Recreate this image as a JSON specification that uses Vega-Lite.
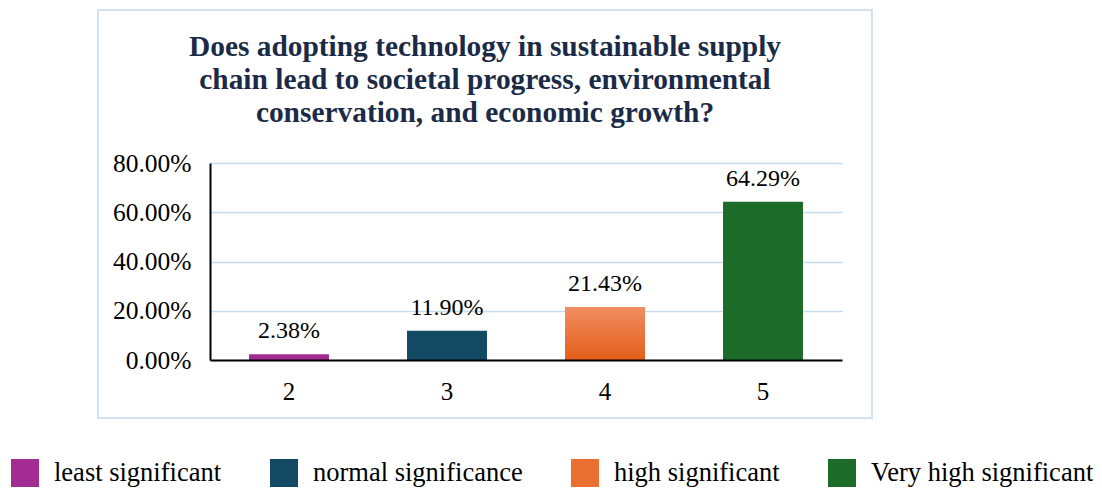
{
  "$schema": "https://vega.github.io/schema/vega-lite/v6.json",
  "width": 774,
  "height": 408,
  "autosize": {"type": "none"},
  "padding": {"left": 98, "top": 10, "right": 230, "bottom": 70},
  "background": "white",
  "config": {
    "font": "Liberation Serif",
    "view": {"stroke": "#D3E2F3", "strokeWidth": 2}
  },
  "title": {
    "text": ["Does adopting technology in sustainable supply", "chain lead to societal progress, environmental", "conservation, and economic growth?"],
    "font": "Liberation Serif",
    "fontSize": 29.4,
    "fontWeight": "bold",
    "color": "#1B2B47",
    "lineHeight": 33,
    "anchor": "middle",
    "frame": "group",
    "baseline": "top",
    "offset": -118
  },
  "data": {
    "values": [
      {"score": "2", "pct": 0.0238, "level": "least significant"},
      {"score": "3", "pct": 0.119, "level": "normal significance"},
      {"score": "4", "pct": 0.2143, "level": "high significant"},
      {"score": "5", "pct": 0.6429, "level": "Very high significant"}
    ]
  },
  "encoding": {
    "x": {
      "field": "score",
      "type": "nominal",
      "sort": null,
      "scale": {"range": [112, 744], "paddingInner": 0.494, "paddingOuter": 0.247},
      "axis": {
        "title": null,
        "labelAngle": 0,
        "labelFontSize": 25,
        "labelColor": "#000000",
        "labelPadding": 19,
        "ticks": false,
        "domainColor": "#000000",
        "domainWidth": 2,
        "offset": -58,
        "zindex": 1
      }
    },
    "y": {
      "field": "pct",
      "type": "quantitative",
      "scale": {"domain": [0, 0.8], "range": [350, 153], "nice": false},
      "axis": {
        "title": null,
        "format": ".2%",
        "values": [0, 0.2, 0.4, 0.6, 0.8],
        "labelFontSize": 25.5,
        "labelColor": "#000000",
        "labelPadding": 19,
        "ticks": false,
        "domainColor": "#000000",
        "domainWidth": 2,
        "gridColor": "#C8DCF0",
        "gridWidth": 1.5,
        "offset": -112
      }
    }
  },
  "layer": [
    {
      "mark": {"type": "bar"},
      "encoding": {
        "color": {
          "field": "level",
          "type": "nominal",
          "scale": {
            "domain": ["least significant", "normal significance", "high significant", "Very high significant"],
            "range": ["#A22C91", "#124A63", "#EA7032", "#1C6B28"]
          },
          "legend": {
            "title": null,
            "orient": "none",
            "direction": "horizontal",
            "legendX": -87,
            "legendY": 449,
            "symbolType": "square",
            "symbolSize": 784,
            "symbolStrokeWidth": 0,
            "symbolOpacity": 1,
            "labelFontSize": 26.5,
            "labelFont": "Liberation Serif",
            "labelColor": "#000000",
            "labelOffset": 15,
            "columnPadding": 48,
            "padding": 0,
            "labelLimit": 400
          }
        }
      }
    },
    {
      "transform": [{"filter": "datum.score == '4'"}],
      "mark": {
        "type": "bar",
        "fill": {
          "gradient": "linear",
          "x1": 0, "y1": 0, "x2": 0, "y2": 1,
          "stops": [
            {"offset": 0, "color": "#F08D62"},
            {"offset": 1, "color": "#E45E1A"}
          ]
        }
      }
    },
    {
      "mark": {"type": "text", "baseline": "alphabetic", "dy": -16, "fontSize": 24, "color": "#000000", "font": "Liberation Serif"},
      "encoding": {
        "text": {"field": "pct", "type": "quantitative", "format": ".2%"}
      }
    }
  ]
}
